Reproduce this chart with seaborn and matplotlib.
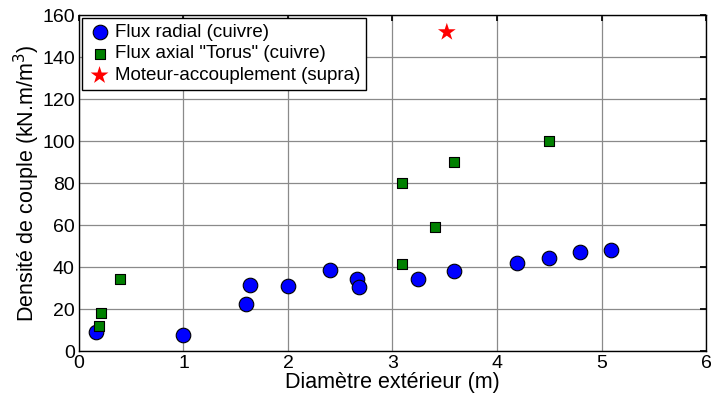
import numpy as np
import pandas as pd
import seaborn as sns
import matplotlib.pyplot as plt

# === Data ===
radial_d = [0.16, 1.0, 1.6, 1.64, 2.0, 2.4, 2.66, 2.68, 3.24, 3.59, 4.19, 4.5, 4.79, 5.09]
radial_t = [9.2, 7.8, 22.4, 31.6, 31.1, 38.6, 34.3, 30.3, 34.3, 38.2, 42.0, 44.3, 47.1, 48.2]

axial_d = [0.19, 0.21, 0.39, 3.09, 3.09, 3.41, 3.59, 4.5]
axial_t = [12.0, 18.2, 34.3, 41.3, 80.0, 59.2, 90.1, 100.1]

supra_d = [3.52]
supra_t = [151.9]

labels = ['Flux radial (cuivre)', 'Flux axial "Torus" (cuivre)', 'Moteur-accouplement (supra)']

sns.set_theme(style='white')
plt.rcParams['font.family'] = ['Liberation Sans', 'DejaVu Sans']
plt.rcParams['text.color'] = 'black'
plt.rcParams['axes.labelcolor'] = 'black'
plt.rcParams['xtick.color'] = 'black'
plt.rcParams['ytick.color'] = 'black'

fig = plt.figure(figsize=(7.11, 3.98), dpi=100, facecolor='white')
ax = fig.add_axes([0.111, 0.118, 0.882, 0.844])

ax.grid(True, color='#8a8a8a', linewidth=0.9, zorder=0)
ax.set_axisbelow(True)

sns.scatterplot(x=radial_d, y=radial_t, ax=ax, marker='o', s=110, color='#0000ff',
                edgecolor='black', linewidth=0.8, label=labels[0], zorder=3)
sns.scatterplot(x=axial_d, y=axial_t, ax=ax, marker='s', s=55, color='#008000',
                edgecolor='black', linewidth=0.8, label=labels[1], zorder=3)
sns.scatterplot(x=supra_d, y=supra_t, ax=ax, marker='*', s=180, color='#ff0000',
                edgecolor='none', linewidth=0, label=labels[2], zorder=3)

ax.set_xlim(0, 6)
ax.set_ylim(0, 160)
ax.set_xticks(range(0, 7))
ax.set_yticks(range(0, 161, 20))
ax.tick_params(direction='in', length=4, labelsize=14, top=True, right=True,
               color='black', labelcolor='black')
ax.tick_params(axis='x', pad=3)
ax.tick_params(axis='y', pad=3)
for s in ax.spines.values():
    s.set_color('black')
    s.set_linewidth(1.0)

ax.set_xlabel('Diamètre extérieur (m)', fontsize=15.5, labelpad=0)
ax.set_ylabel('Densité de couple (kN.m/m$^3$)', fontsize=15.5, labelpad=0)

leg = ax.legend(loc='upper left', fontsize=13.5, frameon=True, fancybox=False,
                edgecolor='black', framealpha=1, borderaxespad=0.15,
                handletextpad=0.2, borderpad=0.3, labelspacing=0.25,
                handlelength=1.3, markerscale=1.0)
leg.get_frame().set_linewidth(1.0)
for t in leg.get_texts():
    t.set_color('black')

plt.savefig('out.png', dpi=100)
